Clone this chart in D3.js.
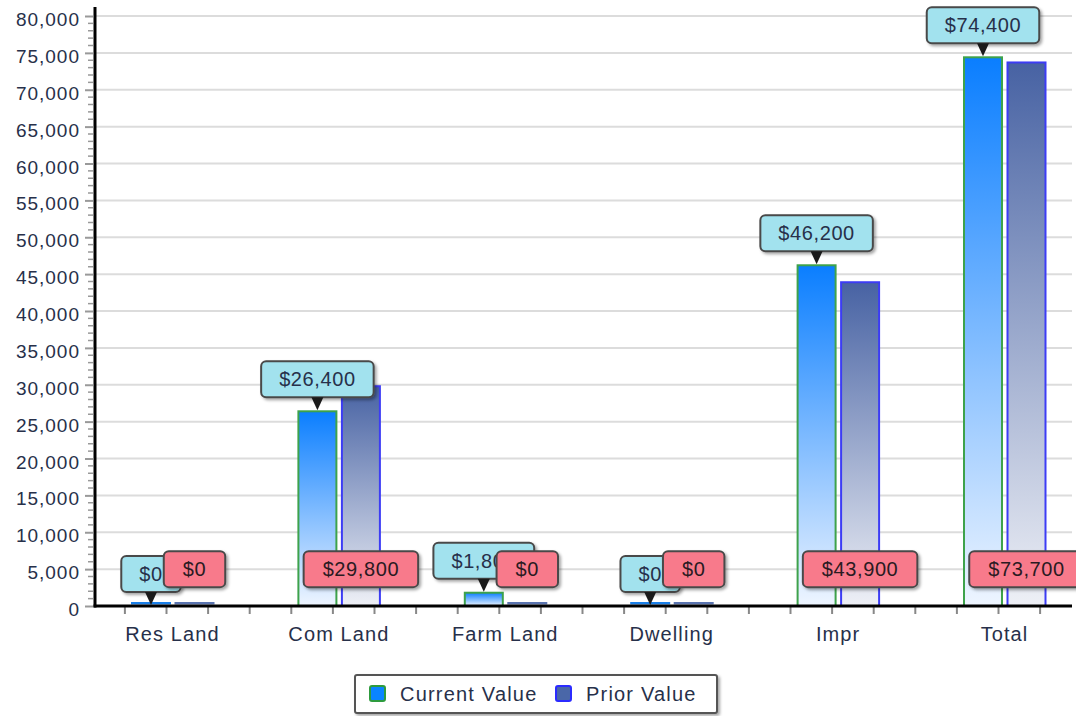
<!DOCTYPE html>
<html>
<head>
<meta charset="utf-8">
<script src="https://cdn.jsdelivr.net/npm/d3@7"></script>
<style>
  body { margin: 0; background: #fff; }
  text { font-family: "Liberation Sans", Arial, sans-serif; fill: #333; }
</style>
</head>
<body>
<div id="chart"></div>
<script>
var categories = ['Res Land', 'Com Land', 'Farm Land', 'Dwelling', 'Impr', 'Total'];
var currentValues = [0, 26400, 1800, 0, 46200, 74400];
var priorValues = [0, 29800, 0, 0, 43900, 73700];
var yTicks = [0, 5000, 10000, 15000, 20000, 25000, 30000, 35000, 40000, 45000, 50000, 55000, 60000, 65000, 70000, 75000, 80000];
var seriesNames = ['Current Value', 'Prior Value'];

var data = categories.map(function(c, i){
  return {name: c, current: currentValues[i], prior: priorValues[i]};
});

var svg = d3.select('#chart')
  .append('svg')
  .attr('width', 1076)
  .attr('height', 716);

var defs = svg.append('defs');
function grad(id, top, bottom){
  var g = defs.append('linearGradient').attr('id', id)
    .attr('x1', 0).attr('y1', 0).attr('x2', 0).attr('y2', 1);
  g.append('stop').attr('offset', '0%').attr('stop-color', top);
  g.append('stop').attr('offset', '100%').attr('stop-color', bottom);
}
grad('gCur', '#0a7eff', '#eef5ff');
grad('gPrior', '#4762a3', '#eef0f6');
var f = defs.append('filter').attr('id', 'shadow').attr('x', '-20%').attr('y', '-20%').attr('width', '150%').attr('height', '160%');
f.append('feDropShadow').attr('dx', 2).attr('dy', 2).attr('stdDeviation', 1.5).attr('flood-color', '#000').attr('flood-opacity', 0.35);

var left = 95, right = 1072, bottom = 606;
var y = d3.scaleLinear().domain([0, 80000]).range([bottom, 16]);
var x = d3.scaleBand().domain(categories).range([89.3, 1087.7]);
var bw = x.bandwidth();
var textColor = '#27304a';

// grid
svg.append('g')
  .selectAll('line.grid')
  .data(yTicks.filter(function(d){return d > 0;}))
  .enter()
    .append('line')
    .attr('x1', left).attr('x2', right)
    .attr('y1', function(d){return y(d);}).attr('y2', function(d){return y(d);})
    .attr('stroke', '#dcdcdc').attr('stroke-width', 2);

// minor y ticks
svg.append('g')
  .selectAll('line')
  .data(d3.range(0, 80001, 1000).filter(function(d){return d % 5000 != 0;}))
  .enter()
    .append('line')
    .attr('x1', left - 7).attr('x2', left - 2)
    .attr('y1', function(d){return y(d);}).attr('y2', function(d){return y(d);})
    .attr('stroke', '#999').attr('stroke-width', 1.5);

// y axis
var yAxis = svg.append('g')
  .attr('transform', 'translate(' + (left - 2) + ',0)')
  .call(d3.axisLeft(y).tickValues(yTicks).tickFormat(d3.format(',')).tickSize(8).tickPadding(5));
yAxis.select('.domain').remove();
yAxis.selectAll('line').attr('stroke', '#999').attr('stroke-width', 2);
yAxis.selectAll('text')
  .attr('dy', '0.5em')
  .attr('font-size', 19)
  .attr('letter-spacing', 1)
  .style('fill', textColor);

// x ticks
var xTicks = [];
categories.forEach(function(c){
  for (var j = 0; j < 4; j++){
    var px = x(c) + j * bw / 4 - 6;
    if (px > left + 5 && px < right) xTicks.push(px);
  }
});
svg.append('g')
  .selectAll('line')
  .data(xTicks)
  .enter()
    .append('line')
    .attr('x1', function(d){return d;}).attr('x2', function(d){return d;})
    .attr('y1', bottom).attr('y2', bottom + 8)
    .attr('stroke', '#888').attr('stroke-width', 2);

// category labels
svg.append('g')
  .selectAll('text')
  .data(categories)
  .enter()
    .append('text')
    .attr('x', function(d){return x(d) + bw / 2;})
    .attr('y', 641)
    .attr('text-anchor', 'middle')
    .attr('font-size', 20)
    .attr('letter-spacing', 1.1)
    .style('fill', textColor)
    .text(function(d){return d;});

// bars
var groups = svg.selectAll('g.datapoint')
  .data(data)
  .enter()
    .append('g')
    .classed('datapoint', true)
    .attr('transform', function(d){return 'translate(' + (x(d.name) + bw / 2) + ',0)';});

function barTop(v){ return v > 0 ? y(v) : y(0) - 3; }
function barH(v){ return v > 0 ? y(0) - y(v) : 0.5; }

groups.append('rect')
  .attr('x', -40.5)
  .attr('y', function(d){return barTop(d.current);})
  .attr('width', 38)
  .attr('height', function(d){return barH(d.current);})
  .attr('fill', 'url(#gCur)')
  .attr('stroke', function(d){return d.current > 0 ? '#3ea24b' : '#1a7fe8';})
  .attr('stroke-width', 2);

groups.append('rect')
  .attr('x', 3)
  .attr('y', function(d){return barTop(d.prior);})
  .attr('width', 38)
  .attr('height', function(d){return barH(d.prior);})
  .attr('fill', 'url(#gPrior)')
  .attr('stroke', function(d){return d.prior > 0 ? '#3c3cf5' : '#5a74b0';})
  .attr('stroke-width', 2);

// axes lines
svg.append('line').attr('x1', left).attr('x2', left).attr('y1', 7).attr('y2', bottom + 1.5)
  .attr('stroke', '#000').attr('stroke-width', 3);
svg.append('line').attr('x1', left - 1.5).attr('x2', right).attr('y1', bottom).attr('y2', bottom)
  .attr('stroke', '#000').attr('stroke-width', 3);

var money = function(v){return '$' + d3.format(',')(v);};

// current value callouts
var cur = groups.append('g').attr('class', 'curLabel');
cur.each(function(d){
  var g = d3.select(this);
  var cx = -21.5;
  var top = y(d.current);
  var t = g.append('text')
    .attr('font-size', 20)
    .attr('letter-spacing', 0.6)
    .attr('text-anchor', 'middle')
    .style('fill', textColor)
    .text(money(d.current));
  var w = t.node().getComputedTextLength() + 36;
  var by = top - 14 - 36;
  g.insert('rect', 'text')
    .attr('x', cx - w / 2).attr('y', by)
    .attr('width', w).attr('height', 36)
    .attr('rx', 5)
    .attr('fill', '#a2e2ee')
    .attr('stroke', '#4a4a4a').attr('stroke-width', 2)
    .attr('filter', 'url(#shadow)');
  g.append('path')
    .attr('d', 'M' + (cx - 6) + ',' + (top - 14) + 'L' + (cx + 6) + ',' + (top - 14) + 'L' + cx + ',' + (top - 1) + 'Z')
    .attr('fill', '#1a1a1a');
  t.attr('x', cx).attr('y', by + 25);
});

// prior value labels
var pri = groups.append('g').attr('class', 'priLabel');
pri.each(function(d){
  var g = d3.select(this);
  var cx = 22;
  var cy = y(5000);
  var t = g.append('text')
    .attr('font-size', 20)
    .attr('letter-spacing', 0.6)
    .attr('text-anchor', 'middle')
    .style('fill', '#2a1a22')
    .text(money(d.prior));
  var w = t.node().getComputedTextLength() + 38;
  g.insert('rect', 'text')
    .attr('x', cx - w / 2).attr('y', cy - 18)
    .attr('width', w).attr('height', 36)
    .attr('rx', 5)
    .attr('fill', '#f87a8b')
    .attr('stroke', '#4a4a4a').attr('stroke-width', 2)
    .attr('filter', 'url(#shadow)');
  t.attr('x', cx).attr('y', cy + 7);
});

// legend
var legend = svg.append('g');
legend.append('rect')
  .attr('x', 355).attr('y', 675).attr('width', 362).attr('height', 38)
  .attr('rx', 2)
  .attr('fill', '#fff').attr('stroke', '#555').attr('stroke-width', 2)
  .attr('filter', 'url(#shadow)');
var legItems = [
  {name: seriesNames[0], x: 370, fill: '#0a84ff', stroke: '#2e9b3e'},
  {name: seriesNames[1], x: 556, fill: '#4a67a8', stroke: '#2b2bff'}
];
legend.selectAll('rect.key')
  .data(legItems)
  .enter()
    .append('rect')
    .classed('key', true)
    .attr('x', function(d){return d.x;}).attr('y', 686)
    .attr('width', 15).attr('height', 15)
    .attr('rx', 2)
    .attr('fill', function(d){return d.fill;})
    .attr('stroke', function(d){return d.stroke;})
    .attr('stroke-width', 2);
legend.selectAll('text')
  .data(legItems)
  .enter()
    .append('text')
    .attr('x', function(d){return d.x + 30;})
    .attr('y', 701)
    .attr('font-size', 20)
    .attr('letter-spacing', 1.2)
    .style('fill', textColor)
    .text(function(d){return d.name;});
</script>
</body>
</html>
